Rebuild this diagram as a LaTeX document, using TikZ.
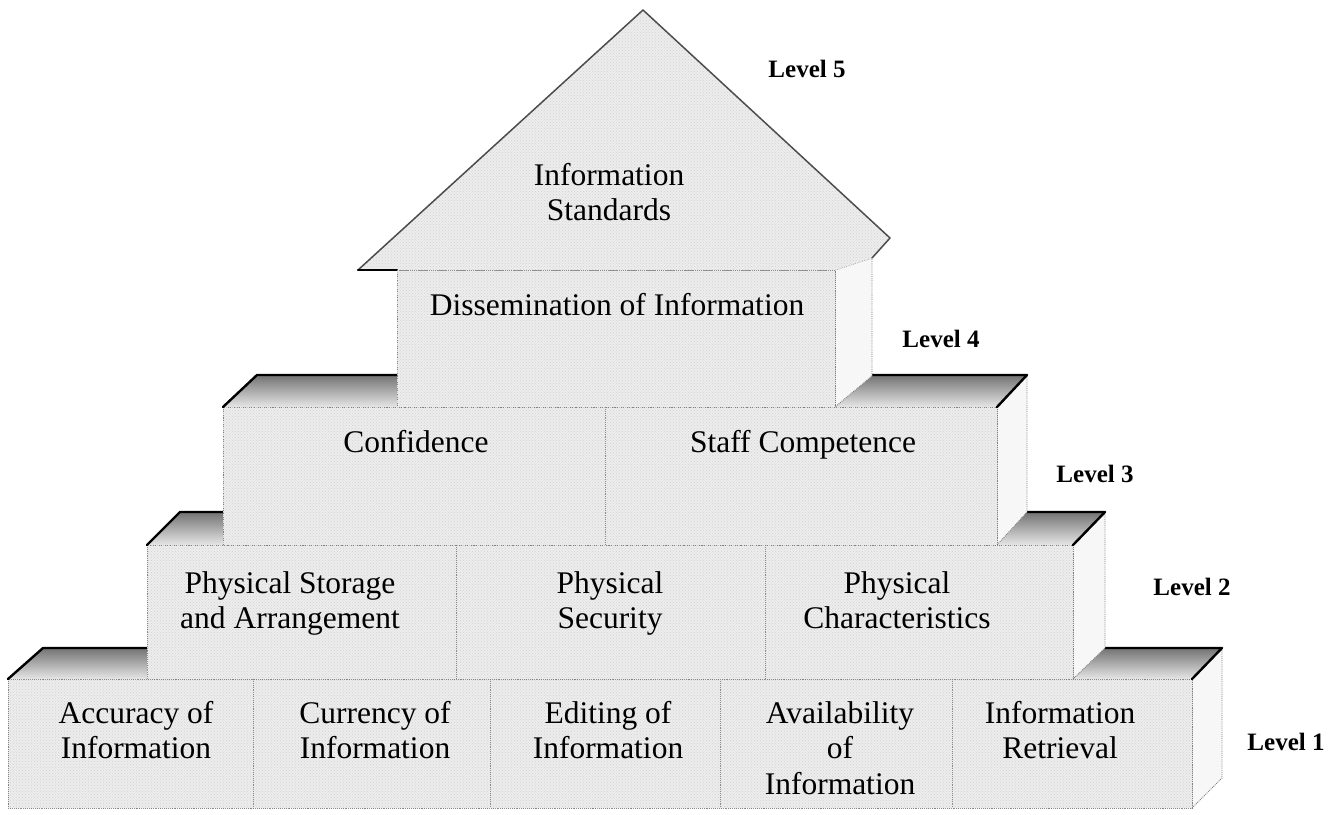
\documentclass[tikz,border=0pt]{standalone}
\usepackage{fontspec}
\setmainfont{Liberation Serif}
\usetikzlibrary{patterns}
\begin{document}
\begin{tikzpicture}[x=1pt,y=-1pt,
  face/.style={fill=black!7, draw=black!50, line width=0.9pt, densely dotted,
    postaction={pattern=crosshatch dots, pattern color=black!18}},
  side/.style={fill=black!3, draw=black!50, line width=0.9pt, densely dotted},
  divider/.style={draw=black!45, line width=0.9pt, densely dotted},
  topface/.style={top color=black!55, bottom color=black!10},
  rim/.style={draw=black, line width=2.4pt, line join=round, line cap=round},
  lbl/.style={font=\fontsize{31.5}{35.5}\selectfont, align=center, inner sep=0pt, anchor=north},
  lvl/.style={font=\fontsize{25}{30}\selectfont\bfseries, inner sep=0pt, anchor=base},
]
\useasboundingbox (0,0) rectangle (1343,814);

% ---------- Level 1 ----------
\path[topface] (8,679) -- (43,648) -- (1222,648) -- (1192,679) -- cycle;
\filldraw[side] (1192,679) -- (1222,648) -- (1222,778) -- (1192,808) -- cycle;
\filldraw[face] (8,679) rectangle (1192,808);
\draw[rim] (8,679) -- (43,648) -- (1222,648) -- (1192,679);
\foreach \x in {253,490,720,952} \draw[divider] (\x,679) -- (\x,808);

% ---------- Level 2 ----------
\path[topface] (147,545) -- (180,512) -- (1105,512) -- (1073,545) -- cycle;
\filldraw[side] (1073,545) -- (1105,512) -- (1105,648) -- (1073,679) -- cycle;
\filldraw[face] (147,545) rectangle (1073,679);
\draw[rim] (147,545) -- (180,512) -- (1105,512) -- (1073,545);
\foreach \x in {456,765} \draw[divider] (\x,545) -- (\x,679);

% ---------- Level 3 ----------
\path[topface] (223,407) -- (257,375) -- (1027,375) -- (997,407) -- cycle;
\filldraw[side] (997,407) -- (1027,375) -- (1027,512) -- (997,545) -- cycle;
\filldraw[face] (223,407) rectangle (997,545);
\draw[rim] (223,407) -- (257,375) -- (1027,375) -- (997,407);
\draw[divider] (605,407) -- (605,545);

% ---------- Level 4 ----------
\filldraw[side] (835,270) -- (872,258) -- (872,376) -- (835,407) -- cycle;
\filldraw[face] (397,270) rectangle (835,407);

% ---------- Level 5 (roof) ----------
\fill[black!7, postaction={pattern=crosshatch dots, pattern color=black!18}]
  (358,270) -- (643,10) -- (890,238) -- (872,258) -- (835,270) -- cycle;
\draw[black!70, line width=1.5pt, line join=round] (358,270) -- (643,10) -- (890,238) -- (872,258);
\draw[black, line width=2.4pt, line cap=round] (358,270) -- (397,270);
\draw[divider] (397,270) -- (835,270);

% ---------- texts ----------
\node[lbl] (acc) at (136,701) {Accuracy of\\Information};
\node[lbl] (cur) at (375,701) {Currency of\\Information};
\node[lbl] (edi) at (608,701) {Editing of\\Information};
\node[lbl] (ava) at (840,701) {Availability\\of\\Information};
\node[lbl] (ret) at (1060,701) {Information\\Retrieval};

\node[lbl] (pst) at (290,571) {Physical Storage\\and Arrangement};
\node[lbl] (psc) at (610,571) {Physical\\Security};
\node[lbl] (pch) at (897,571) {Physical\\Characteristics};

\node[lbl] (con) at (416,430) {Confidence};
\node[lbl] (stc) at (803,430) {Staff Competence};

\node[lbl] (dis) at (617,293) {Dissemination of Information};

\node[lbl] (ist) at (609,163) {Information\\Standards};

\node[lvl] (l5) at (807,77) {Level 5};
\node[lvl] (l4) at (941,347) {Level 4};
\node[lvl] (l3) at (1095,482) {Level 3};
\node[lvl] (l2) at (1192,595) {Level 2};
\node[lvl] (l1) at (1286,750) {Level 1};
\end{tikzpicture}
\end{document}
